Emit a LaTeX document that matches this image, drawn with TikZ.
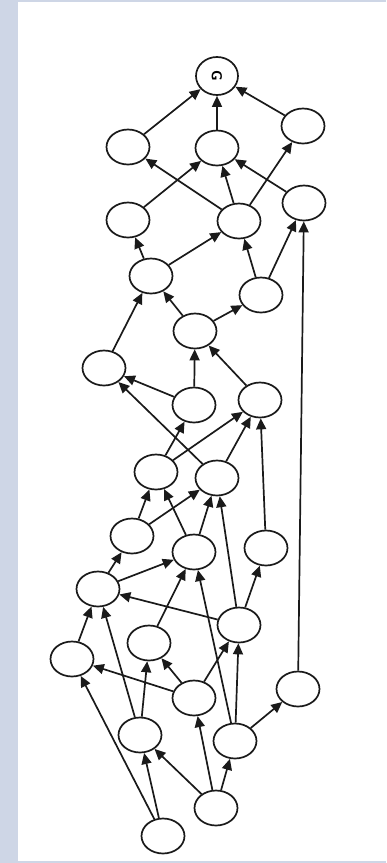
\documentclass[tikz,border=0pt]{standalone}
\usetikzlibrary{shapes.geometric,arrows.meta}
\definecolor{frame}{HTML}{CED6E6}
\definecolor{ink}{HTML}{1A1A1A}
\begin{document}
\begin{tikzpicture}[x=1pt,y=-1pt,
  vertex/.style={ellipse,draw=ink,line width=1.7pt,fill=white,
    minimum width=43pt,minimum height=35pt,inner sep=0pt},
  edge/.style={draw=ink,line width=1.7pt,-{Triangle[length=11pt,width=10pt]}}]
% page with a tinted margin on the left
\fill[frame] (0,0) rectangle (386,863);
\fill[white] (18,2) rectangle (386,861);
\useasboundingbox (0,0) rectangle (386,863);
% vertices
\node[vertex,minimum width=42pt,minimum height=38pt] (g) at (217,76)
  {\sffamily\bfseries\Large\rotatebox{-90}{G}};
\node[vertex] (n1) at (128,147) {};
\node[vertex] (n2) at (217,148) {};
\node[vertex] (n3) at (303,126) {};
\node[vertex] (n4) at (128,220) {};
\node[vertex] (n5) at (239,221) {};
\node[vertex] (n6) at (304,203) {};
\node[vertex] (n7) at (151,276) {};
\node[vertex] (n8) at (261,295) {};
\node[vertex] (n9) at (195,331) {};
\node[vertex] (n10) at (104,368) {};
\node[vertex] (n11) at (194,405) {};
\node[vertex] (n12) at (260,400) {};
\node[vertex] (n13) at (156,472) {};
\node[vertex] (n14) at (217,478) {};
\node[vertex] (n15) at (132,536) {};
\node[vertex] (n16) at (194,552) {};
\node[vertex] (n17) at (266,548) {};
\node[vertex] (n18) at (98,589) {};
\node[vertex] (n19) at (239,625) {};
\node[vertex] (n20) at (149,643) {};
\node[vertex] (n21) at (72,659) {};
\node[vertex] (n22) at (194,698) {};
\node[vertex] (n23) at (298,689) {};
\node[vertex] (n24) at (140,735) {};
\node[vertex] (n25) at (235,741) {};
\node[vertex] (n26) at (216,808) {};
\node[vertex] (n27) at (163,836) {};
% edges
\foreach \a/\b in {n1/g,n2/g,n3/g,
  n5/n1,n4/n2,n5/n2,n6/n2,n5/n3,
  n7/n4,n7/n5,n8/n5,n8/n6,n23/n6,
  n10/n7,n9/n7,n9/n8,
  n11/n9,n12/n9,
  n11/n10,n14/n10,
  n13/n11,n13/n12,n14/n12,n17/n12,
  n15/n13,n16/n13,n15/n14,n16/n14,n19/n14,
  n18/n15,n18/n16,n20/n16,n25/n16,n19/n17,
  n19/n18,n21/n18,n24/n18,
  n24/n20,n22/n20,n22/n19,n25/n19,
  n22/n21,n27/n21,
  n26/n22,n27/n24,n26/n24,n26/n25,n25/n23}
  \draw[edge] (\a) -- (\b);
\end{tikzpicture}
\end{document}
